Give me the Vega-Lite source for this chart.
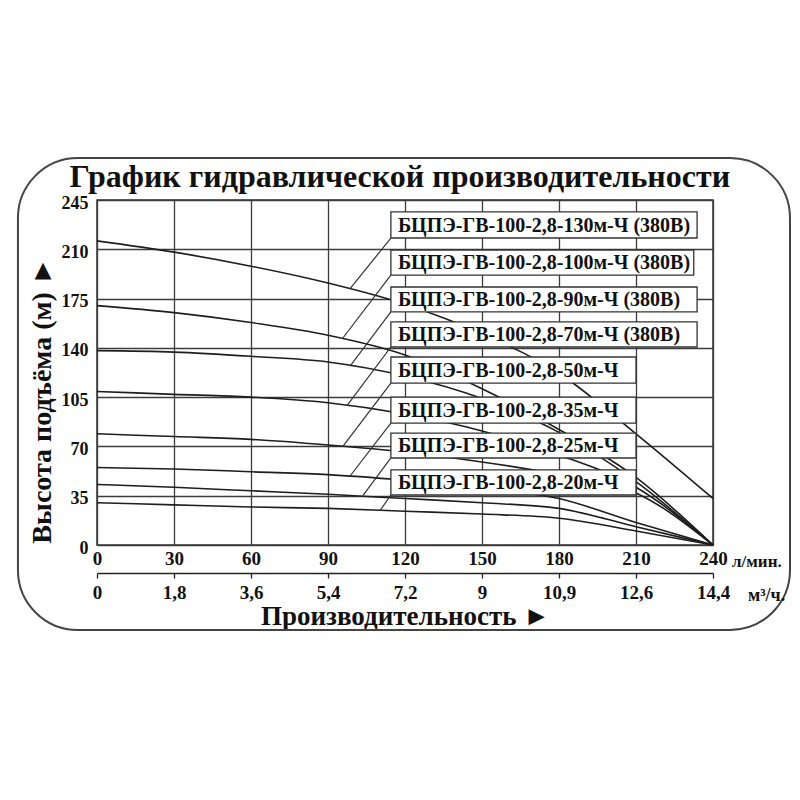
{
  "$schema": "https://vega.github.io/schema/vega-lite/v6.json",
  "autosize": {"type": "none"},
  "padding": {"left": 97, "top": 200, "right": 87, "bottom": 255},
  "width": 616,
  "height": 345,
  "background": "white",
  "datasets": {
    "curves": [
      {"pump": "130м", "q": 0, "h": 216}, {"pump": "130м", "q": 30, "h": 208}, {"pump": "130м", "q": 60, "h": 198},
      {"pump": "130м", "q": 90, "h": 186}, {"pump": "130м", "q": 120, "h": 171}, {"pump": "130м", "q": 150, "h": 150},
      {"pump": "130м", "q": 180, "h": 122}, {"pump": "130м", "q": 210, "h": 79}, {"pump": "130м", "q": 240, "h": 33},
      {"pump": "100м", "q": 0, "h": 170}, {"pump": "100м", "q": 30, "h": 165}, {"pump": "100м", "q": 60, "h": 158},
      {"pump": "100м", "q": 90, "h": 149}, {"pump": "100м", "q": 120, "h": 135}, {"pump": "100м", "q": 150, "h": 111},
      {"pump": "100м", "q": 180, "h": 82}, {"pump": "100м", "q": 210, "h": 48}, {"pump": "100м", "q": 240, "h": 0},
      {"pump": "90м", "q": 0, "h": 138}, {"pump": "90м", "q": 30, "h": 137}, {"pump": "90м", "q": 60, "h": 134},
      {"pump": "90м", "q": 90, "h": 130}, {"pump": "90м", "q": 120, "h": 120}, {"pump": "90м", "q": 150, "h": 104},
      {"pump": "90м", "q": 180, "h": 80}, {"pump": "90м", "q": 210, "h": 45}, {"pump": "90м", "q": 240, "h": 0},
      {"pump": "70м", "q": 0, "h": 109}, {"pump": "70м", "q": 30, "h": 107}, {"pump": "70м", "q": 60, "h": 105},
      {"pump": "70м", "q": 90, "h": 101}, {"pump": "70м", "q": 120, "h": 93}, {"pump": "70м", "q": 150, "h": 81},
      {"pump": "70м", "q": 180, "h": 64}, {"pump": "70м", "q": 210, "h": 41}, {"pump": "70м", "q": 240, "h": 0},
      {"pump": "50м", "q": 0, "h": 79}, {"pump": "50м", "q": 30, "h": 77}, {"pump": "50м", "q": 60, "h": 75},
      {"pump": "50м", "q": 90, "h": 71}, {"pump": "50м", "q": 120, "h": 66}, {"pump": "50м", "q": 150, "h": 59},
      {"pump": "50м", "q": 180, "h": 50}, {"pump": "50м", "q": 210, "h": 37}, {"pump": "50м", "q": 240, "h": 0},
      {"pump": "35м", "q": 0, "h": 55}, {"pump": "35м", "q": 30, "h": 54}, {"pump": "35м", "q": 60, "h": 52},
      {"pump": "35м", "q": 90, "h": 50}, {"pump": "35м", "q": 120, "h": 46}, {"pump": "35м", "q": 150, "h": 41},
      {"pump": "35м", "q": 180, "h": 33}, {"pump": "35м", "q": 210, "h": 16}, {"pump": "35м", "q": 240, "h": 0},
      {"pump": "25м", "q": 0, "h": 43}, {"pump": "25м", "q": 30, "h": 41}, {"pump": "25м", "q": 60, "h": 38.5},
      {"pump": "25м", "q": 90, "h": 36}, {"pump": "25м", "q": 120, "h": 33}, {"pump": "25м", "q": 150, "h": 30},
      {"pump": "25м", "q": 180, "h": 26}, {"pump": "25м", "q": 210, "h": 13}, {"pump": "25м", "q": 240, "h": 0},
      {"pump": "20м", "q": 0, "h": 30}, {"pump": "20м", "q": 30, "h": 28.5}, {"pump": "20м", "q": 60, "h": 27},
      {"pump": "20м", "q": 90, "h": 26}, {"pump": "20м", "q": 120, "h": 24}, {"pump": "20м", "q": 150, "h": 22},
      {"pump": "20м", "q": 180, "h": 19}, {"pump": "20м", "q": 210, "h": 10}, {"pump": "20м", "q": 240, "h": 0}
    ],
    "labels": [
      {"name": "БЦПЭ-ГВ-100-2,8-130м-Ч (380В)", "q0": 114.5, "q1": 233.8, "hTop": 236.5, "hBot": 218, "qEnd": 98.6, "hEnd": 182},
      {"name": "БЦПЭ-ГВ-100-2,8-100м-Ч (380В)", "q0": 114.5, "q1": 232.5, "hTop": 209.5, "hBot": 191.7, "qEnd": 95.8, "hEnd": 147},
      {"name": "БЦПЭ-ГВ-100-2,8-90м-Ч (380В)", "q0": 114.5, "q1": 233.8, "hTop": 183.2, "hBot": 165.5, "qEnd": 98.6, "hEnd": 127},
      {"name": "БЦПЭ-ГВ-100-2,8-70м-Ч (380В)", "q0": 114.5, "q1": 233.8, "hTop": 158.4, "hBot": 140.6, "qEnd": 97.4, "hEnd": 99},
      {"name": "БЦПЭ-ГВ-100-2,8-50м-Ч", "q0": 114.5, "q1": 210, "hTop": 133.5, "hBot": 115, "qEnd": 95.8, "hEnd": 70},
      {"name": "БЦПЭ-ГВ-100-2,8-35м-Ч", "q0": 114.5, "q1": 210, "hTop": 105, "hBot": 86.6, "qEnd": 98.6, "hEnd": 49},
      {"name": "БЦПЭ-ГВ-100-2,8-25м-Ч", "q0": 114.5, "q1": 210, "hTop": 79.5, "hBot": 61.8, "qEnd": 103.6, "hEnd": 35},
      {"name": "БЦПЭ-ГВ-100-2,8-20м-Ч", "q0": 114.5, "q1": 210, "hTop": 53.3, "hBot": 35.5, "qEnd": 110.3, "hEnd": 24.5}
    ]
  },
  "layer": [
    {
      "layer": [
        {
          "data": {"values": [{}]},
          "mark": {"type": "rect", "cornerRadius": 60, "fillOpacity": 0, "stroke": "#444", "strokeWidth": 2},
          "encoding": {
            "x": {"datum": -30.8, "type": "quantitative"},
            "x2": {"datum": 270},
            "y": {"datum": 274.8, "type": "quantitative"},
            "y2": {"datum": -60.4}
          }
        },
        {
          "data": {"values": [{"title": "График гидравлической производительности"}]},
          "mark": {"type": "text", "align": "center", "baseline": "alphabetic", "font": "Liberation Serif", "fontWeight": "bold", "fontSize": 32, "color": "#111"},
          "encoding": {
            "x": {"datum": 118, "type": "quantitative"},
            "y": {"datum": 254.2, "type": "quantitative"},
            "text": {"field": "title", "type": "nominal"}
          }
        },
        {
          "data": {"name": "curves"},
          "mark": {"type": "line", "interpolate": "monotone", "color": "#1e1e1e", "strokeWidth": 1.6},
          "encoding": {
            "x": {
              "field": "q", "type": "quantitative",
              "scale": {"domain": [0, 240], "nice": false, "zero": false},
              "axis": {
                "values": [0, 30, 60, 90, 120, 150, 180, 210, 240],
                "grid": true, "gridColor": "#3c3c3c", "gridWidth": 1.3, "gridOpacity": 1,
                "domain": false, "ticks": false, "labelPadding": 4,
                "labelFontSize": 19, "labelFlush": false, "labelOverlap": false,
                "title": null
              }
            },
            "y": {
              "field": "h", "type": "quantitative",
              "scale": {"domain": [0, 245], "nice": false},
              "axis": {
                "values": [0, 35, 70, 105, 140, 175, 210, 245],
                "grid": true, "gridColor": "#3c3c3c", "gridWidth": 1.3, "gridOpacity": 1,
                "domain": false, "ticks": false, "labelPadding": 9, "labelOffset": 3,
                "labelFontSize": 18, "labelFlush": false, "labelOverlap": false,
                "title": "Высота подъёма (м) ►",
                "titleFontSize": 28, "titleX": -47, "titleY": 200,
                "titleBaseline": "alphabetic", "titleAlign": "center", "titleAngle": -90
              }
            },
            "detail": {"field": "pump", "type": "nominal"}
          }
        },
        {
          "data": {"name": "labels"},
          "mark": {"type": "rule", "color": "#333", "strokeWidth": 1.2},
          "encoding": {
            "x": {"field": "q0", "type": "quantitative"},
            "y": {"field": "hBot", "type": "quantitative"},
            "x2": {"field": "qEnd"},
            "y2": {"field": "hEnd"}
          }
        },
        {
          "data": {"name": "labels"},
          "mark": {"type": "rect", "fill": "white", "stroke": "#333", "strokeWidth": 1.3},
          "encoding": {
            "x": {"field": "q0", "type": "quantitative"},
            "x2": {"field": "q1"},
            "y": {"field": "hTop", "type": "quantitative"},
            "y2": {"field": "hBot"}
          }
        },
        {
          "data": {"name": "labels"},
          "mark": {"type": "text", "align": "left", "baseline": "alphabetic", "dx": 7, "dy": -6, "font": "Liberation Serif", "fontWeight": "bold", "fontSize": 20, "color": "#111"},
          "encoding": {
            "x": {"field": "q0", "type": "quantitative"},
            "y": {"field": "hBot", "type": "quantitative"},
            "text": {"field": "name", "type": "nominal"}
          }
        },
        {
          "data": {"values": [{"unit": "л/мин."}]},
          "mark": {"type": "text", "align": "left", "baseline": "alphabetic", "font": "Liberation Serif", "fontWeight": "bold", "fontSize": 17, "color": "#111"},
          "encoding": {
            "x": {"datum": 247.4, "type": "quantitative"},
            "y": {"datum": -15.6, "type": "quantitative"},
            "text": {"field": "unit", "type": "nominal"}
          }
        },
        {
          "data": {"values": [{"unit": "м³/ч."}]},
          "mark": {"type": "text", "align": "left", "baseline": "alphabetic", "font": "Liberation Serif", "fontWeight": "bold", "fontSize": 18, "color": "#111"},
          "encoding": {
            "x": {"datum": 253.6, "type": "quantitative"},
            "y": {"datum": -39.8, "type": "quantitative"},
            "text": {"field": "unit", "type": "nominal"}
          }
        }
      ]
    },
    {
      "data": {"name": "curves"},
      "mark": {"type": "rule", "opacity": 0},
      "encoding": {
        "x": {
          "field": "q", "type": "quantitative",
          "scale": {"domain": [0, 240], "nice": false, "zero": false},
          "axis": {
            "orient": "bottom", "offset": 28,
            "values": [0, 30, 60, 90, 120, 150, 180, 210, 240],
            "grid": false, "domain": true, "domainColor": "#222", "domainWidth": 1.3,
            "ticks": true, "tickSize": 5, "tickColor": "#222", "tickWidth": 1.3,
            "labelPadding": 5, "labelFontSize": 19, "labelFlush": false, "labelOverlap": false,
            "labelExpr": "datum.value == 180 ? '10,9' : replace(format(datum.value * 0.06, '.1~f'), '.', ',')",
            "title": "Производительность ►",
            "titleFontSize": 27, "titleY": 51, "titleBaseline": "alphabetic"
          }
        }
      }
    }
  ],
  "resolve": {"scale": {"x": "independent"}},
  "config": {
    "font": "Liberation Serif",
    "view": {"stroke": "#333", "strokeWidth": 1.5},
    "axis": {
      "labelFont": "Liberation Serif", "titleFont": "Liberation Serif",
      "labelFontWeight": "bold", "titleFontWeight": "bold",
      "labelColor": "#111", "titleColor": "#111"
    }
  }
}
